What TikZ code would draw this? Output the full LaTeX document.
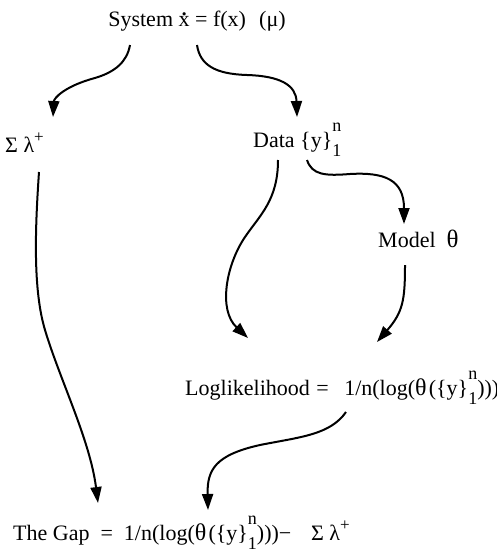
\documentclass[tikz,border=0pt]{standalone}
\usepackage{fontspec}
\setmainfont{Liberation Serif}
\usetikzlibrary{arrows.meta}
\newcommand{\yset}{\{y\}\rlap{\raisebox{0.72em}{\fontsize{18}{18}\selectfont n}}\raisebox{-0.45em}{\fontsize{18}{18}\selectfont 1}}
\newcommand{\lamplus}{Σ\hspace{0.25em}λ\raisebox{0.45em}{\fontsize{17}{17}\selectfont +}}
\newcommand{\xdot}{\makebox[0pt][l]{\makebox[0.5em]{\raisebox{0.5em}{\fontsize{27}{27}\selectfont .}}}x}
\newcommand{\thetabig}{{\fontsize{24}{26}\selectfont θ}}
\begin{document}
\begin{tikzpicture}[x=1pt,y=-1pt,
  lbl/.style={inner sep=0pt, anchor=base west, font=\fontsize{22}{26}\selectfont},
  link/.style={line width=2pt, -{Triangle[length=16pt,width=11pt]}}]
\useasboundingbox (0,0) rectangle (497,554);
\node[lbl, anchor=base] (sys) at (197,27) {System \xdot{} = f(x)\hspace{0.6em}(μ)};
\node[lbl] (sum) at (5,152) {\lamplus};
\node[lbl] (data) at (253,147) {Data \yset};
\node[lbl] (model) at (378,247) {Model\hspace{0.5em}{\fontsize{25}{26}\selectfont θ}};
\node[lbl] (loglik) at (185,395) {Loglikelihood\hspace{0.3em}=\hspace{0.7em}1/n(log(\thetabig\hspace{0.1em}(\yset)))};
\node[lbl] (gap) at (13,540) {The Gap\hspace{0.5em}=\hspace{0.5em}1/n(log(\thetabig\hspace{0.1em}(\yset)))−\hspace{0.9em}\lamplus};
% connector end points
\coordinate (a1s) at (130,45);  \coordinate (a1e) at (53,117);
\coordinate (a2s) at (197,45);  \coordinate (a2e) at (297,117);
\coordinate (a3s) at (39,172);  \coordinate (a3e) at (98,503);
\coordinate (a4s) at (278,160); \coordinate (a4e) at (248,338);
\coordinate (a5s) at (307,160); \coordinate (a5e) at (404,224);
\coordinate (a6s) at (405,265); \coordinate (a6e) at (377,342);
\coordinate (a7s) at (346,412); \coordinate (a7e) at (208,510);
\draw[link] (a1s) .. controls (127,62) and (115,72) .. (95,78) .. controls (65,86) and (54,98) .. (a1e);
\draw[link] (a2s) .. controls (200,65) and (215,74) .. (247,75) .. controls (280,76) and (296,85) .. (a2e);
\draw[link] (a3s) .. controls (35,230) and (33,290) .. (45,330) .. controls (60,380) and (90,440) .. (a3e);
\draw[link] (a4s) .. controls (278,200) and (260,215) .. (245,237) .. controls (226,265) and (218,310) .. (a4e);
\draw[link] (a5s) .. controls (312,175) and (325,176) .. (350,174) .. controls (385,172) and (404,180) .. (a5e);
\draw[link] (a6s) .. controls (405,300) and (403,312) .. (a6e);
\draw[link] (a7s) .. controls (330,435) and (300,437) .. (260,445) .. controls (215,455) and (207,470) .. (a7e);
\end{tikzpicture}
\end{document}
